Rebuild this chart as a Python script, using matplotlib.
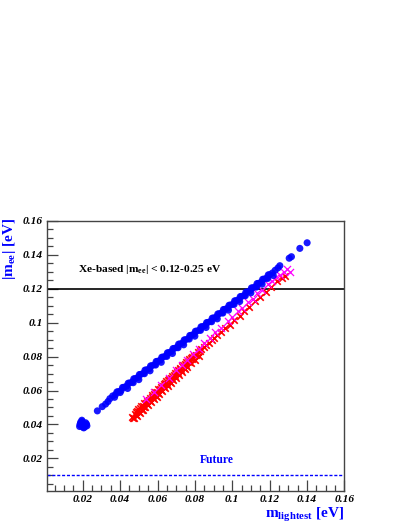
import matplotlib
matplotlib.use("Agg")
import matplotlib.pyplot as plt
from matplotlib.ticker import MultipleLocator, FuncFormatter

plt.rcParams['font.family'] = ['Liberation Serif', 'DejaVu Serif']
plt.rcParams['mathtext.fontset'] = 'custom'
plt.rcParams['mathtext.rm'] = 'Liberation Serif:bold'
plt.rcParams['mathtext.bf'] = 'Liberation Serif:bold'
plt.rcParams['mathtext.it'] = 'Liberation Serif:bold:italic'

# ---- data ----
blue_x = [0.0190, 0.0195, 0.0200, 0.0205, 0.0210, 0.0215, 0.0200, 0.0190, 0.0210, 0.0195, 0.0220, 0.0185,
          0.0183, 0.0222, 0.0205, 0.0215, 0.0188, 0.0200,
          0.0278, 0.0304, 0.0322, 0.0335,
          0.0345, 0.0360, 0.0375, 0.0390, 0.0405, 0.0420, 0.0435, 0.0450, 0.0465, 0.0480,
          0.0495, 0.0510, 0.0525, 0.0540, 0.0555, 0.0570, 0.0585, 0.0600, 0.0615, 0.0630,
          0.0645, 0.0660, 0.0675, 0.0690, 0.0705, 0.0720, 0.0735, 0.0750, 0.0765, 0.0780,
          0.0795, 0.0810, 0.0825, 0.0840, 0.0855, 0.0870, 0.0885, 0.0900, 0.0915, 0.0930,
          0.0945, 0.0960, 0.0975, 0.0990, 0.1005, 0.1020, 0.1035, 0.1050, 0.1065, 0.1080,
          0.1095, 0.1110, 0.1125, 0.1140, 0.1155, 0.1170, 0.1185, 0.1200, 0.1215, 0.1230,
          0.1245, 0.1255, 0.1305, 0.1317, 0.1362, 0.1401,
          0.0370, 0.0400, 0.0440, 0.0470, 0.0500, 0.0530, 0.0560, 0.0590, 0.0620, 0.0650,
          0.0680, 0.0710, 0.0740, 0.0770, 0.0800, 0.0830, 0.0860, 0.0890, 0.0920, 0.0950,
          0.0980, 0.1010, 0.1040, 0.1070, 0.1100, 0.1130, 0.1160, 0.1190, 0.1220,
          0.0383, 0.0413, 0.0443, 0.0473, 0.0503, 0.0533, 0.0563, 0.0593, 0.0623, 0.0653,
          0.0683, 0.0713, 0.0743, 0.0773, 0.0803, 0.0833, 0.0863, 0.0893, 0.0923, 0.0953,
          0.0983, 0.1013, 0.1043, 0.1073, 0.1103, 0.1133, 0.1163, 0.1193]
blue_y = [0.0405, 0.0418, 0.0395, 0.0390, 0.0400, 0.0395, 0.0385, 0.0395, 0.0385, 0.0425, 0.0402, 0.0400,
          0.0388, 0.0392, 0.0380, 0.0410, 0.0412, 0.0408,
          0.0480, 0.0505, 0.0520, 0.0535,
          0.0552, 0.0568, 0.0576, 0.0593, 0.0600, 0.0619, 0.0626, 0.0644, 0.0651, 0.0670,
          0.0677, 0.0695, 0.0702, 0.0721, 0.0728, 0.0746, 0.0753, 0.0772, 0.0779, 0.0797,
          0.0804, 0.0823, 0.0830, 0.0848, 0.0855, 0.0874, 0.0881, 0.0899, 0.0906, 0.0925,
          0.0932, 0.0950, 0.0957, 0.0976, 0.0983, 0.1001, 0.1008, 0.1027, 0.1034, 0.1052,
          0.1059, 0.1078, 0.1085, 0.1103, 0.1110, 0.1129, 0.1136, 0.1154, 0.1161, 0.1180,
          0.1187, 0.1205, 0.1212, 0.1231, 0.1238, 0.1256, 0.1263, 0.1282, 0.1292, 0.1308,
          0.1322, 0.1335, 0.1379, 0.1388, 0.1437, 0.1470,
          0.0560, 0.0588, 0.0612, 0.0646, 0.0664, 0.0699, 0.0716, 0.0750, 0.0766, 0.0801,
          0.0818, 0.0852, 0.0869, 0.0903, 0.0920, 0.0954, 0.0971, 0.1005, 0.1022, 0.1056,
          0.1073, 0.1107, 0.1124, 0.1158, 0.1175, 0.1209, 0.1226, 0.1260, 0.1277,
          0.0592, 0.0618, 0.0643, 0.0669, 0.0694, 0.0720, 0.0745, 0.0771, 0.0796, 0.0822,
          0.0847, 0.0873, 0.0898, 0.0924, 0.0949, 0.0975, 0.1000, 0.1026, 0.1051, 0.1077,
          0.1102, 0.1128, 0.1153, 0.1179, 0.1204, 0.1230, 0.1255, 0.1281]

red_x = [0.0465, 0.0470, 0.0478, 0.0485, 0.0492, 0.0500, 0.0508, 0.0515, 0.0522, 0.0530,
         0.0538, 0.0545, 0.0552, 0.0560, 0.0568, 0.0575, 0.0582, 0.0590, 0.0598, 0.0605,
         0.0612, 0.0620, 0.0628, 0.0635, 0.0642, 0.0650, 0.0658, 0.0665, 0.0672, 0.0680,
         0.0688, 0.0695, 0.0702, 0.0710, 0.0718, 0.0725, 0.0732, 0.0740, 0.0748, 0.0755,
         0.0762, 0.0770, 0.0778, 0.0785, 0.0795, 0.0805, 0.0815, 0.0825, 0.0835, 0.0848,
         0.0860, 0.0875, 0.0890, 0.0905, 0.0920, 0.0940, 0.0960, 0.0988, 0.1010, 0.1040,
         0.1065, 0.1090, 0.1120, 0.1150, 0.1180, 0.1210, 0.1240, 0.1265, 0.1280,
         0.0475, 0.0490, 0.0505, 0.0520, 0.0535, 0.0550, 0.0565, 0.0580, 0.0595, 0.0610,
         0.0625, 0.0640, 0.0655, 0.0670, 0.0685, 0.0700, 0.0715, 0.0730, 0.0745, 0.0760,
         0.0780, 0.0800, 0.0820,
         0.0483, 0.0498, 0.0513, 0.0528, 0.0543, 0.0558, 0.0573, 0.0588, 0.0603, 0.0618,
         0.0633, 0.0648, 0.0663, 0.0678, 0.0693, 0.0708, 0.0723, 0.0738, 0.0753, 0.0768,
         0.0783]
red_y = [0.0445, 0.0438, 0.0462, 0.0455, 0.0478, 0.0471, 0.0495, 0.0488, 0.0511, 0.0504,
         0.0528, 0.0521, 0.0544, 0.0537, 0.0561, 0.0554, 0.0577, 0.0570, 0.0594, 0.0587,
         0.0610, 0.0603, 0.0627, 0.0620, 0.0643, 0.0636, 0.0660, 0.0653, 0.0676, 0.0669,
         0.0693, 0.0686, 0.0709, 0.0702, 0.0726, 0.0719, 0.0742, 0.0735, 0.0759, 0.0752,
         0.0775, 0.0768, 0.0792, 0.0785, 0.0803, 0.0808, 0.0825, 0.0830, 0.0846, 0.0855,
         0.0870, 0.0880, 0.0900, 0.0910, 0.0928, 0.0945, 0.0968, 0.0986, 0.1013, 0.1040,
         0.1070, 0.1092, 0.1125, 0.1150, 0.1182, 0.1210, 0.1242, 0.1265, 0.1275,
         0.0436, 0.0452, 0.0468, 0.0484, 0.0500, 0.0516, 0.0532, 0.0548, 0.0564, 0.0580,
         0.0596, 0.0612, 0.0628, 0.0644, 0.0660, 0.0676, 0.0692, 0.0708, 0.0724, 0.0740,
         0.0762, 0.0782, 0.0803,
         0.0476, 0.0492, 0.0509, 0.0525, 0.0541, 0.0557, 0.0573, 0.0589, 0.0606, 0.0622,
         0.0638, 0.0654, 0.0670, 0.0687, 0.0703, 0.0719, 0.0735, 0.0751, 0.0768, 0.0784,
         0.0800]

mag_x = [0.0540, 0.0580, 0.0620, 0.0660, 0.0700, 0.0730, 0.0760, 0.0790, 0.0820, 0.0850,
         0.0880, 0.0910, 0.0940, 0.0975, 0.1000, 0.1030, 0.1055, 0.1085, 0.1110, 0.1135,
         0.1160, 0.1190, 0.1215, 0.1235, 0.1255, 0.1275, 0.1295, 0.1310]
mag_y = [0.0548, 0.0592, 0.0632, 0.0676, 0.0718, 0.0752, 0.0782, 0.0816, 0.0846, 0.0880,
         0.0908, 0.0943, 0.0970, 0.1010, 0.1030, 0.1066, 0.1085, 0.1120, 0.1140, 0.1172,
         0.1190, 0.1226, 0.1245, 0.1268, 0.1282, 0.1300, 0.1315, 0.1300]

xe_limit = 0.12
future_limit = 0.01
xticks = [0.02, 0.04, 0.06, 0.08, 0.10, 0.12, 0.14, 0.16]
yticks = [0.02, 0.04, 0.06, 0.08, 0.10, 0.12, 0.14, 0.16]

# ---- figure ----
W, H = 409, 529
fig = plt.figure(figsize=(W / 100, H / 100), dpi=100)
ax = fig.add_axes([47.3 / W, 1 - 490.7 / H, (344.3 - 47.3) / W, (490.7 - 220.7) / H])

ax.set_xlim(0.001, 0.16)
ax.set_ylim(0.001, 0.16)

ax.axhline(xe_limit, color='black', lw=1.2, zorder=2)
ax.axhline(future_limit, color='blue', lw=1.0, ls=(0, (2.2, 1.3)), zorder=2)

ax.scatter(red_x, red_y, marker='x', s=22, color='red', linewidths=1.2, zorder=3)
ax.scatter(mag_x, mag_y, marker='x', s=26, color='magenta', linewidths=0.9, zorder=3)
ax.scatter(blue_x, blue_y, marker='o', s=26, color='blue', edgecolors='none', alpha=0.9, zorder=4)

ax.set_xticks(xticks)
ax.set_yticks(yticks)
ax.xaxis.set_minor_locator(MultipleLocator(0.005))
ax.yaxis.set_minor_locator(MultipleLocator(0.005))
fmt = FuncFormatter(lambda v, p: ('%.2f' % v).rstrip('0'))
ax.xaxis.set_major_formatter(fmt)
ax.yaxis.set_major_formatter(fmt)
ax.tick_params(which='both', direction='in', top=False, right=False, color='#444444', width=0.9)
ax.tick_params(which='major', length=8, pad=3)
ax.tick_params(which='minor', length=4.5)
for lab in ax.get_xticklabels() + ax.get_yticklabels():
    lab.set_fontweight('bold')
    lab.set_fontstyle('italic')
    lab.set_fontsize(8.2)
for s in ax.spines.values():
    s.set_color('#444444')
    s.set_linewidth(1.0)

ax.text(0.0173, 0.131, r'Xe-based |$\mathbf{m_{ee}}$| < 0.12-0.25 eV', fontsize=8.2,
        fontweight='bold', ha='left', va='center', color='black')
ax.text(0.0917, 0.019, 'Future', fontsize=8.4, fontweight='bold', ha='center', va='center',
        color='blue')

fig.text(10 / W, 1 - 218 / H, r'|$\mathbf{m_{ee}}$| [eV]', rotation=90, ha='center', va='top',
         fontsize=11, fontweight='bold', color='blue')
fig.text(344 / W, 1 - 515 / H, r'$\mathbf{m_{lightest}}$ [eV]', ha='right', va='center',
         fontsize=11, fontweight='bold', color='blue')

fig.savefig('out.png', dpi=100)
